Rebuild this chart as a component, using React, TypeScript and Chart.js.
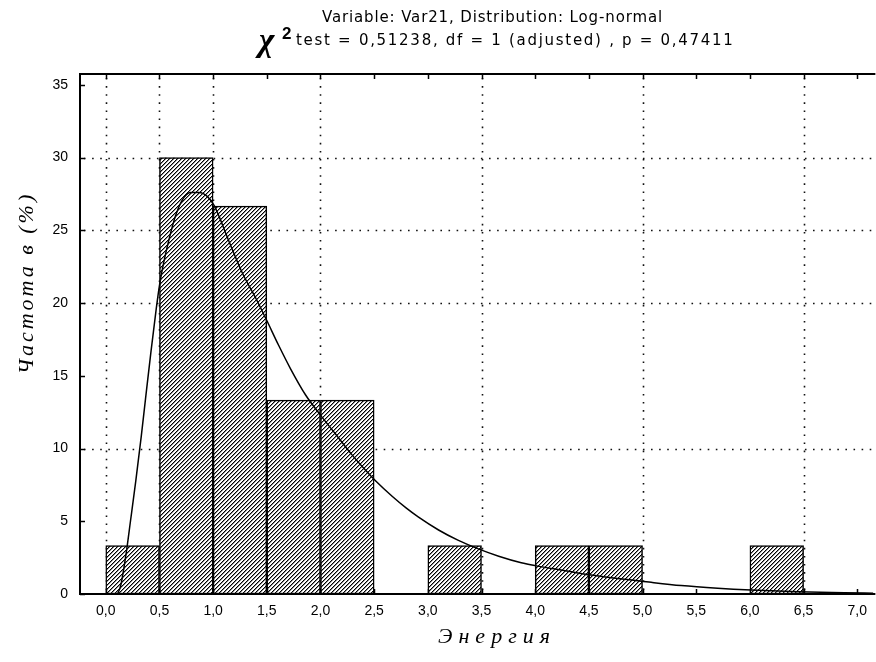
import React, { useEffect, useRef } from 'react';
import { Chart, registerables } from 'chart.js';

Chart.register(...registerables);

// ---- data ----
const binCenters = [0.25, 0.75, 1.25, 1.75, 2.25, 3.25, 4.25, 4.75, 6.25];
const binPercents = [3.33, 30.0, 26.67, 13.33, 13.33, 3.33, 3.33, 3.33, 3.33];

const curveX = [0.11, 0.14, 0.19, 0.23, 0.28, 0.33, 0.37, 0.42, 0.47, 0.5, 0.54, 0.59, 0.65, 0.71, 0.79, 0.87, 0.95, 1.01, 1.15, 1.27, 1.4, 1.5, 1.61, 1.72, 1.86, 2.0, 2.14, 2.29, 2.42, 2.51, 2.67, 2.8, 2.91, 3.1, 3.28, 3.47, 3.66, 3.87, 4.0, 4.28, 4.52, 5.08, 5.36, 5.7, 6.01, 6.45, 6.88, 7.15];
const curveY = [0, 0.6, 2.8, 5.0, 7.8, 10.8, 13.4, 16.6, 19.6, 21.2, 22.8, 24.4, 26.0, 27.05, 27.6, 27.6, 27.3, 26.7, 24.2, 22.1, 20.3, 18.8, 17.1, 15.5, 13.7, 12.3, 11.0, 9.6, 8.5, 7.8, 6.7, 5.9, 5.3, 4.4, 3.7, 3.1, 2.6, 2.15, 1.95, 1.6, 1.3, 0.8, 0.58, 0.4, 0.28, 0.16, 0.09, 0.05];

const xTickValues = [0, 0.5, 1, 1.5, 2, 2.5, 3, 3.5, 4, 4.5, 5, 5.5, 6, 6.5, 7];
const yTickValues = [0, 5, 10, 15, 20, 25, 30, 35];
const xGridValues = [0, 0.5, 1, 2, 3.5, 5, 6.5];
const yGridValues = [10, 20, 25, 30];

const titleLine1 = 'Variable: Var21, Distribution: Log-normal';
const titleChi = 'χ';
const titleSup = '2';
const titleLine2 = 'test = 0,51238, df = 1 (adjusted) , p = 0,47411';
const xAxisTitle = 'Энергия';
const yAxisTitle = 'Частота в (%)';

function fmt(v: number): string {
  return v.toFixed(1).replace('.', ',');
}

function makeHatch(ctx: CanvasRenderingContext2D): CanvasPattern | string {
  const c = document.createElement('canvas');
  c.width = 4;
  c.height = 4;
  const p = c.getContext('2d');
  if (!p) return '#888';
  p.fillStyle = '#ffffff';
  p.fillRect(0, 0, 4, 4);
  p.fillStyle = '#000000';
  for (let r = 0; r < 4; r++) {
    p.fillRect((3 - r + 4) % 4, r, 1, 1);
  }
  p.fillStyle = 'rgba(0,0,0,0.45)';
  for (let r = 0; r < 4; r++) {
    p.fillRect((4 - r) % 4, r, 1, 1);
  }
  return ctx.createPattern(c, 'repeat') || '#888';
}

function fitText(ctx: CanvasRenderingContext2D, text: string, x: number, y: number, width: number) {
  (ctx as any).letterSpacing = '0px';
  const w = ctx.measureText(text).width;
  const extra = (width - w) / Math.max(1, text.length - 1);
  (ctx as any).letterSpacing = extra.toFixed(2) + 'px';
  ctx.fillText(text, x, y);
  (ctx as any).letterSpacing = '0px';
}

const decorPlugin = {
  id: 'decor',
  beforeDatasetsDraw(chart: any) {
    const { ctx, chartArea, scales } = chart;
    const xs = scales.x;
    const ys = scales.y;
    ctx.save();
    ctx.strokeStyle = '#111';
    ctx.lineWidth = 1.6;
    ctx.setLineDash([1.6, 6.5]);
    xGridValues.forEach((v) => {
      const px = Math.round(xs.getPixelForValue(v)) + 0.5;
      ctx.beginPath();
      ctx.moveTo(px, chartArea.top + 4);
      ctx.lineTo(px, chartArea.bottom);
      ctx.stroke();
    });
    yGridValues.forEach((v) => {
      const py = Math.round(ys.getPixelForValue(v)) + 0.5;
      ctx.beginPath();
      ctx.moveTo(chartArea.left + 4, py);
      ctx.lineTo(chartArea.right, py);
      ctx.stroke();
    });
    ctx.restore();
  },
  afterDatasetsDraw(chart: any) {
    const { ctx, chartArea, scales } = chart;
    const xs = scales.x;
    const ys = scales.y;
    ctx.save();
    // frame
    ctx.strokeStyle = '#000';
    ctx.lineWidth = 2;
    ctx.setLineDash([]);
    ctx.beginPath();
    ctx.moveTo(chartArea.right + 2, chartArea.top);
    ctx.lineTo(chartArea.left, chartArea.top);
    ctx.lineTo(chartArea.left, chartArea.bottom);
    ctx.lineTo(chartArea.right + 2, chartArea.bottom);
    ctx.stroke();
    // inward ticks
    ctx.lineWidth = 1.5;
    yTickValues.forEach((v) => {
      const py = Math.round(ys.getPixelForValue(v)) + 0.5;
      ctx.beginPath();
      ctx.moveTo(chartArea.left, py);
      ctx.lineTo(chartArea.left + 5, py);
      ctx.stroke();
    });
    xTickValues.forEach((v) => {
      const px = Math.round(xs.getPixelForValue(v)) + 0.5;
      ctx.beginPath();
      ctx.moveTo(px, chartArea.bottom);
      ctx.lineTo(px, chartArea.bottom - 5);
      ctx.moveTo(px, chartArea.top);
      ctx.lineTo(px, chartArea.top + 5);
      ctx.stroke();
    });

    // titles
    ctx.fillStyle = '#000';
    ctx.textBaseline = 'middle';
    ctx.textAlign = 'left';
    ctx.font = '15px "DejaVu Sans", sans-serif';
    fitText(ctx, titleLine1, 322, 18, 340);

    // chi-square line
    ctx.font = 'italic bold 33px "Liberation Serif", serif';
    ctx.fillText(titleChi, 259, 42);
    ctx.font = 'bold 17px "Liberation Sans", sans-serif';
    ctx.fillText(titleSup, 282, 34);
    ctx.font = '15px "DejaVu Sans", sans-serif';
    fitText(ctx, titleLine2, 296, 41, 437);

    // x axis title
    ctx.textAlign = 'center';
    ctx.font = 'italic 22px "Liberation Serif", serif';
    (ctx as any).letterSpacing = '6px';
    ctx.fillText(xAxisTitle, 497, 637);

    // y axis title
    ctx.translate(27, 283);
    ctx.rotate(-Math.PI / 2);
    (ctx as any).letterSpacing = '3px';
    ctx.fillText(yAxisTitle, 0, 0);
    ctx.restore();
  },
};

export default function App() {
  const canvasRef = useRef<HTMLCanvasElement | null>(null);

  useEffect(() => {
    document.body.style.margin = '0';
    document.body.style.background = '#ffffff';
    const canvas = canvasRef.current;
    if (!canvas) return;
    const ctx = canvas.getContext('2d');
    if (!ctx) return;
    const hatch = makeHatch(ctx);

    const chart = new Chart(ctx, {
      data: {
        datasets: [
          {
            type: 'line',
            label: 'fit',
            data: curveX.map((x, i) => ({ x, y: curveY[i] })),
            borderColor: '#000000',
            borderWidth: 1.5,
            pointRadius: 0,
            fill: false,
            cubicInterpolationMode: 'monotone',
            order: 0,
          } as any,
          {
            type: 'bar',
            label: 'hist',
            data: binCenters.map((x, i) => ({ x, y: binPercents[i] })),
            backgroundColor: hatch as any,
            borderColor: '#000000',
            borderWidth: 1.5,
            borderSkipped: false,
            barPercentage: 1,
            categoryPercentage: 1,
            order: 1,
          } as any,
        ],
      },
      options: {
        responsive: false,
        animation: false,
        devicePixelRatio: 1,
        layout: { padding: { top: 74, right: 0, left: 0, bottom: 0 } },
        plugins: {
          legend: { display: false },
          tooltip: { enabled: false },
          title: { display: false },
        },
        scales: {
          x: {
            type: 'linear',
            position: 'bottom',
            offset: false,
            min: -0.24,
            max: 7.15,
            grid: { display: false, drawTicks: false, offset: false },
            border: { display: false },
            afterBuildTicks: (scale: any) => {
              scale.ticks = xTickValues.map((v) => ({ value: v }));
            },
            afterFit: (scale: any) => {
              scale.height = 68;
            },
            ticks: {
              autoSkip: false,
              maxRotation: 0,
              padding: 9,
              color: '#000',
              font: { family: '"Liberation Sans", Arial, sans-serif', size: 14 },
              callback: (v: any) => fmt(Number(v)),
            },
          },
          y: {
            type: 'linear',
            min: 0,
            max: 35.75,
            grid: { display: false, drawTicks: false },
            border: { display: false },
            afterBuildTicks: (scale: any) => {
              scale.ticks = yTickValues.map((v) => ({ value: v }));
            },
            afterFit: (scale: any) => {
              scale.width = 80;
            },
            ticks: {
              padding: 12,
              color: '#000',
              font: { family: '"Liberation Sans", Arial, sans-serif', size: 14 },
              callback: (v: any) => String(v),
            },
          },
        },
      } as any,
      plugins: [decorPlugin],
    });

    return () => {
      chart.destroy();
    };
  }, []);

  return (
    <div style={{ width: 876, height: 662, background: '#fff' }}>
      <canvas ref={canvasRef} width={876} height={662} style={{ display: 'block' }} />
    </div>
  );
}
